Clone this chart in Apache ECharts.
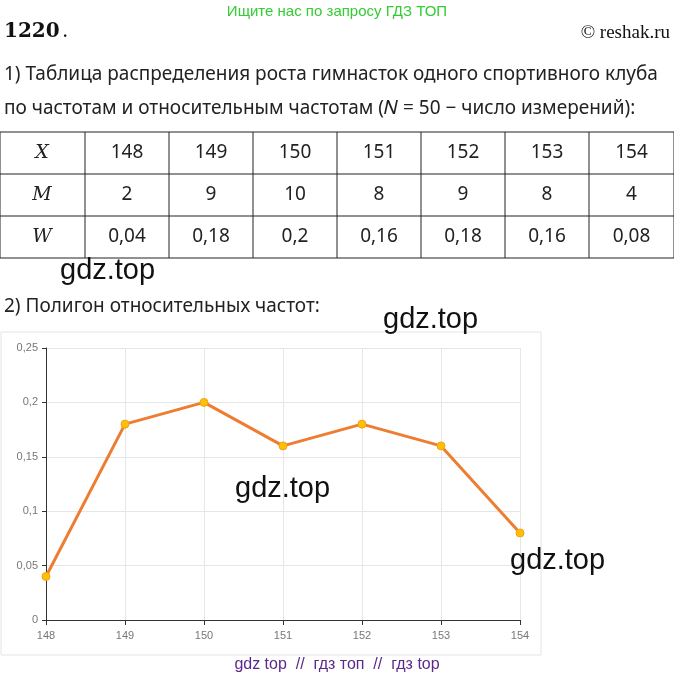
<!DOCTYPE html>
<html><head><meta charset="utf-8">
<script src="https://cdn.jsdelivr.net/npm/echarts@6/dist/echarts.min.js"></script>
<style>html,body{margin:0;padding:0;background:#fff}#c{width:674px;height:683px}</style>
</head><body><div id="c"></div>
<script>
const heights = ['148','149','150','151','152','153','154'];
const freqM = [2,9,10,8,9,8,4];
const relW = [0.04,0.18,0.2,0.16,0.18,0.16,0.08];
const relWLabels = ['0,04','0,18','0,2','0,16','0,18','0,16','0,08'];
const yTicks = [0,0.05,0.1,0.15,0.2,0.25];

const chart = echarts.init(document.getElementById('c'));
const g = [];
const body = {font:'19px "Noto Sans"', fill:'#222'};
g.push({type:'text',left:'center',top:4,style:{text:'Ищите нас по запросу ГДЗ ТОП',font:'15px "Liberation Sans"',fill:'#33cc33'}});
g.push({type:'text',left:4,top:22,style:{text:'1220',font:'bold 20px "DejaVu Serif"',fill:'#111'}});
g.push({type:'text',left:62,top:22,style:{text:'.',font:'20px "DejaVu Serif"',fill:'#111'}});
g.push({type:'text',right:4,top:24,style:{text:'© reshak.ru',font:'19px "Liberation Serif"',fill:'#111'}});
g.push({type:'text',left:4,top:65,style:Object.assign({text:'1) Таблица распределения роста гимнасток одного спортивного клуба'},body)});
g.push({type:'text',left:4,top:99,style:Object.assign({text:'по частотам и относительным частотам (𝑁 = 50 − число измерений):'},body)});
const rowsY=[132,174,216,258], colsX=[0,85,169,253,337,421,505,589,674];
rowsY.forEach(y=>g.push({type:'line',shape:{x1:0,y1:y,x2:674,y2:y},style:{stroke:'#222',lineWidth:1}}));
colsX.forEach(x=>g.push({type:'line',shape:{x1:x,y1:132,x2:x,y2:258},style:{stroke:'#222',lineWidth:1}}));
const rows=[['X',heights],['M',freqM.map(String)],['W',relWLabels]];
rows.forEach((r,i)=>{
  const cy=(rowsY[i]+rowsY[i+1])/2;
  g.push({type:'text',x:42,y:cy,style:{text:r[0],font:'italic 19px "DejaVu Serif"',fill:'#222',align:'center',verticalAlign:'middle'}});
  r[1].forEach((t,j)=>g.push({type:'text',x:(colsX[j+1]+colsX[j+2])/2,y:cy,style:{text:t,font:'19px "Noto Sans"',fill:'#222',align:'center',verticalAlign:'middle'}}));
});
g.push({type:'text',left:4,top:297,style:Object.assign({text:'2) Полигон относительных частот:'},body)});
g.push({type:'rect',shape:{x:1,y:332,width:540,height:323},style:{fill:'none',stroke:'#e4e4e4',lineWidth:1}});
const wm=[[60,256],[383,305],[235,474],[510,546]];
wm.forEach(p=>g.push({type:'text',x:p[0],y:p[1],z:10,style:{text:'gdz.top',font:'29px "Liberation Sans"',fill:'#111'}}));
g.push({type:'text',left:'center',top:657,style:{text:'gdz top  //  гдз топ  //  гдз top',font:'16px "Liberation Sans"',fill:'#5b2a8c'}});
chart.setOption({
  animation:false,
  grid:{left:46,right:154,top:348,bottom:63,containLabel:false},
  xAxis:{type:'category',data:heights,boundaryGap:false,
    axisLine:{lineStyle:{color:'#333'}},axisTick:{show:true,alignWithLabel:true,lineStyle:{color:'#333'}},
    axisLabel:{color:'#777',fontSize:11,fontFamily:'Liberation Sans',margin:10},
    splitLine:{show:true,lineStyle:{color:'#e6e6e6'}}},
  yAxis:{type:'value',min:0,max:0.25,interval:0.05,
    axisLine:{show:true,lineStyle:{color:'#333'}},axisTick:{show:true,inside:false,length:4,lineStyle:{color:'#333'}},
    axisLabel:{color:'#777',fontSize:11,fontFamily:'Liberation Sans',formatter:v=>String(+v.toFixed(2)).replace('.',',')},
    splitLine:{lineStyle:{color:'#e6e6e6'}}},
  series:[{type:'line',data:relW,symbol:'circle',symbolSize:8,
    lineStyle:{color:'#ED7D31',width:3},
    itemStyle:{color:'#FFC000',borderColor:'#F0A020',borderWidth:1}}],
  graphic:g
});
</script></body></html>
